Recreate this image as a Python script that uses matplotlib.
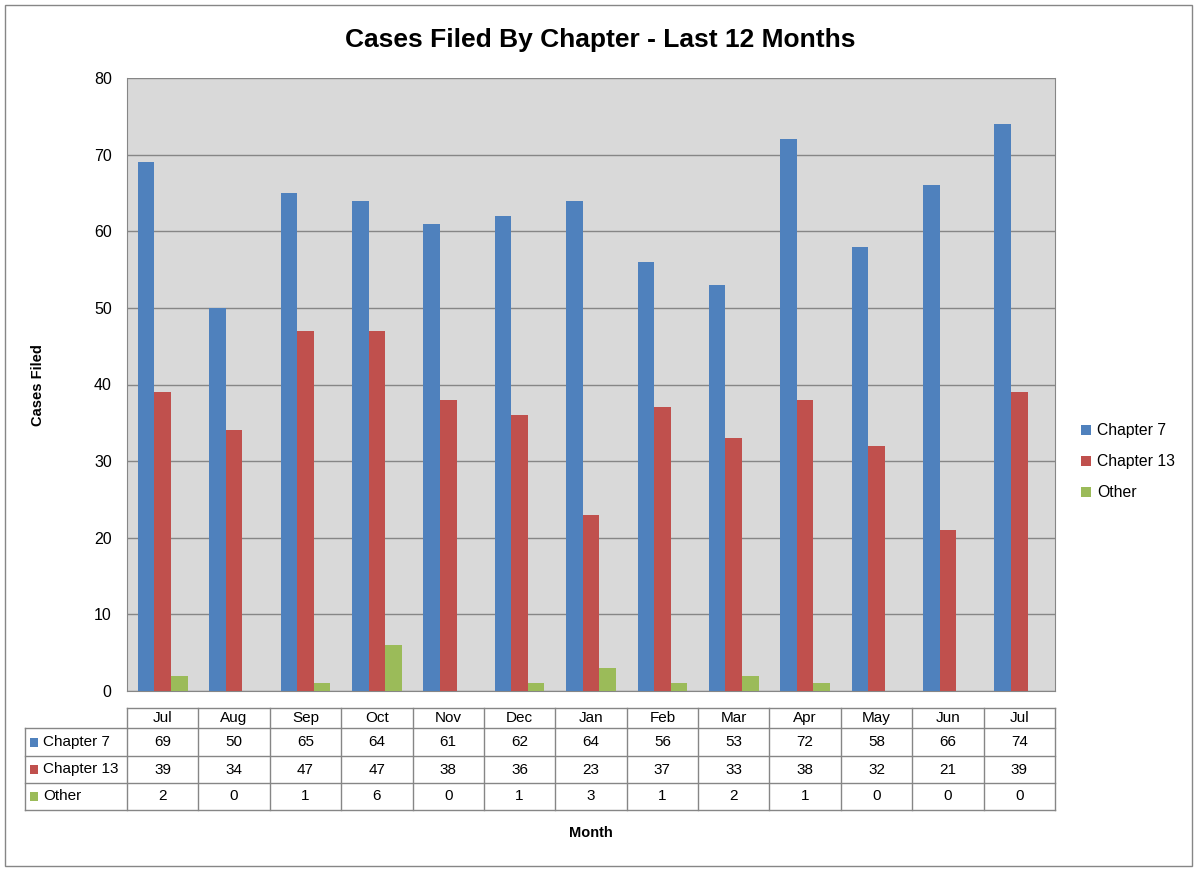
import matplotlib
matplotlib.use("Agg")
import matplotlib.pyplot as plt
import numpy as np
from matplotlib.transforms import blended_transform_factory
from matplotlib.patches import Rectangle

months = ["Jul", "Aug", "Sep", "Oct", "Nov", "Dec", "Jan", "Feb", "Mar", "Apr", "May", "Jun", "Jul"]
chapter7 = [69, 50, 65, 64, 61, 62, 64, 56, 53, 72, 58, 66, 74]
chapter13 = [39, 34, 47, 47, 38, 36, 23, 37, 33, 38, 32, 21, 39]
other = [2, 0, 1, 6, 0, 1, 3, 1, 2, 1, 0, 0, 0]
series_names = ["Chapter 7", "Chapter 13", "Other"]
colors = ["#4F81BD", "#C0504D", "#9BBB59"]

plt.rcParams['font.family'] = ['Liberation Sans', 'DejaVu Sans']

W, H = 1200, 874
fig = plt.figure(figsize=(12, 8.74), dpi=100)

def fx(px):
    return px / W

def fy(py):
    return 1 - py / H

ax = fig.add_axes([fx(127), fy(691), fx(1055) - fx(127), fy(78) - fy(691)])
ax.set_facecolor("#D9D9D9")

x = np.arange(len(months))
bw = 0.232
series = [chapter7, chapter13, other]
for k, (vals, name, c) in enumerate(zip(series, series_names, colors)):
    ax.bar(x + (k - 1) * bw, vals, width=bw, color=c, label=name, zorder=3)

ax.set_xlim(-0.5, len(months) - 0.5)
ax.set_ylim(0, 80)
ax.set_yticks(range(0, 81, 10))
ax.yaxis.grid(True, color="#868686", linewidth=1, zorder=0)
ax.set_axisbelow(True)
ax.set_xticks([])
ax.tick_params(axis='y', length=0, pad=11, labelsize=11.5)
ax.spines["top"].set_visible(False)
for s in ["left", "bottom", "right"]:
    ax.spines[s].set_color("#868686")

# Title and axis labels
fig.text(0.5, fy(40), "Cases Filed By Chapter - Last 12 Months", ha="center", va="center",
         fontsize=19, fontweight="bold")
fig.text(fx(38), fy(385), "Cases Filed", ha="center", va="center", rotation=90,
         fontsize=10.5, fontweight="bold")
fig.text(fx(591), fy(833), "Month", ha="center", va="center", fontsize=10.5, fontweight="bold")

# Legend
leg = ax.legend(loc="center left", bbox_to_anchor=(1.013, 0.374), frameon=False, fontsize=11.3,
                handlelength=0.6, handleheight=0.6, handletextpad=0.4, labelspacing=1.02)

# Data table
tr = blended_transform_factory(ax.transData, fig.transFigure)
lc = "#868686"
y_head_top, y_head_bot = fy(708), fy(728)
row_bounds = [fy(728), fy(756), fy(783), fy(810)]
left_edge = -0.5 - (127 - 25) / (928 / len(months))
right_edge = len(months) - 0.5

def hline(y, x0, x1):
    ax.plot([x0, x1], [y, y], color=lc, lw=1, transform=tr, clip_on=False)

def vline(xv, y0, y1):
    ax.plot([xv, xv], [y0, y1], color=lc, lw=1, transform=tr, clip_on=False)

hline(y_head_top, -0.5, right_edge)
for yb in row_bounds:
    hline(yb, left_edge, right_edge)
for i in range(len(months) + 1):
    vline(i - 0.5, y_head_top, row_bounds[-1])
vline(left_edge, row_bounds[0], row_bounds[-1])

for i, m in enumerate(months):
    ax.text(i, (y_head_top + y_head_bot) / 2, m, ha="center", va="center", fontsize=11,
            transform=tr, clip_on=False)

for r, (vals, name, c) in enumerate(zip(series, series_names, colors)):
    yc = (row_bounds[r] + row_bounds[r + 1]) / 2
    for i, v in enumerate(vals):
        ax.text(i, yc, str(v), ha="center", va="center", fontsize=11, transform=tr, clip_on=False)
    fig.patches.append(Rectangle((fx(30), yc - 4.5 / H), 8 / W, 9 / H, transform=fig.transFigure,
                                 facecolor=c, edgecolor="none"))
    fig.text(fx(43), yc, name, ha="left", va="center", fontsize=11)

# Outer border
fig.patches.append(Rectangle((fx(5), fy(866)), fx(1192) - fx(5), fy(5) - fy(866),
                             transform=fig.transFigure, facecolor="none", edgecolor="#868686", lw=1))

fig.savefig("out.png", dpi=100)
